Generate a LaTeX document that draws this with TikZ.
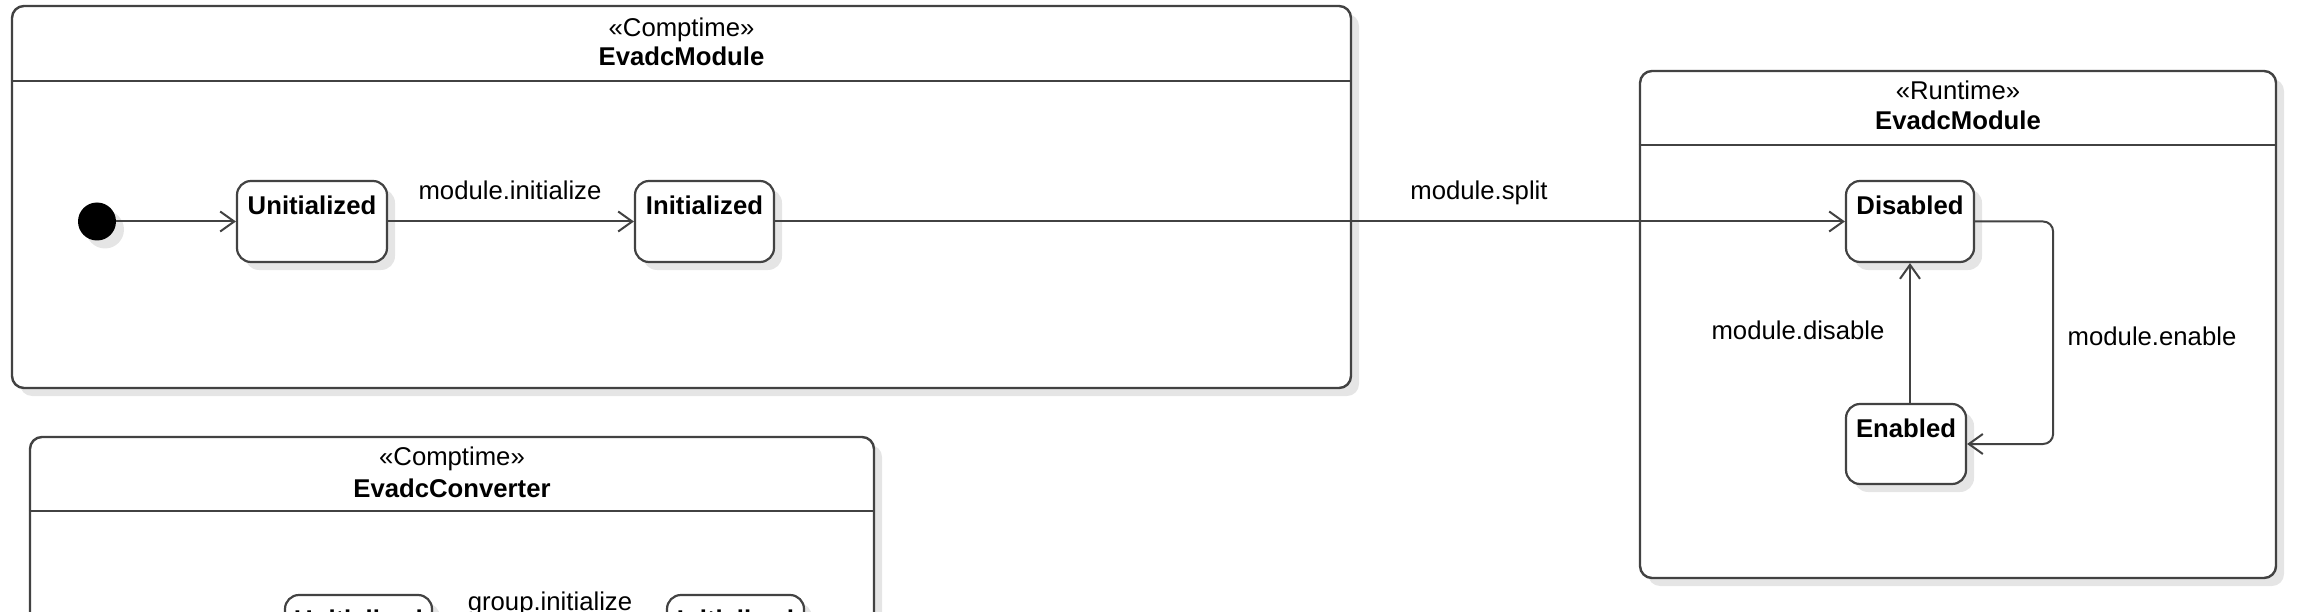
\documentclass[tikz,border=0pt]{standalone}
\usepackage{fontspec}
\setmainfont{Liberation Sans}
\usetikzlibrary{arrows.meta,shadows}
\definecolor{linec}{HTML}{424242}
\tikzset{
  shad/.style={drop shadow={shadow xshift=8pt, shadow yshift=-8pt, opacity=0.10, fill=black}},
  frame/.style={draw=linec, line width=2.4pt, rounded corners=12pt, fill=white, inner sep=0pt, shad},
  sep/.style={draw=linec, line width=2.4pt},
  stbox/.style={draw=linec, line width=2.2pt, rounded corners=14pt, fill=white, inner sep=0pt, shad},
  trans/.style={draw=linec, line width=2pt, -{Straight Barb[length=14pt,width=20pt,line width=2pt]}},
  lbl/.style={font=\fontsize{25.7pt}{30pt}\selectfont, inner sep=0pt, anchor=base},
  blbl/.style={font=\fontsize{25.7pt}{30pt}\selectfont\bfseries, inner sep=0pt, anchor=base},
  initdot/.style={circle, fill=black, minimum size=38pt, inner sep=0pt, shad},
}
\begin{document}
\begin{tikzpicture}[x=1pt, y=-1pt]
\clip (0,0) rectangle (2306,612);
\fill[white] (0,0) rectangle (2306,612);

% ---------- Comptime EvadcModule ----------
\node[frame, minimum width=1339pt, minimum height=382pt] (m1) at (681.5,197) {};
\draw[sep] (m1.north west) ++(0,76) -- ++(1339,0);
\node[lbl] (m1s) at (681.5,37) {«Comptime»};
\node[blbl] (m1t) at (681.5,66) {EvadcModule};

\node[initdot] (i0) at (97,221.5) {};
\node[stbox, minimum width=150pt, minimum height=81pt,
      label={[blbl, name=ut, yshift=-35pt]north:Unitialized}] (u) at (312,221.5) {};
\node[stbox, minimum width=139pt, minimum height=81pt,
      label={[blbl, name=it, yshift=-35pt]north:Initialized}] (i) at (704.5,221.5) {};
\draw[trans] (i0) -- (u);
\draw[trans] (u) -- (i);
\node[lbl] (l1) at (510,200) {module.initialize};

% ---------- Runtime EvadcModule ----------
\node[frame, minimum width=636pt, minimum height=507pt] (rt) at (1958,324.5) {};
\draw[sep] (rt.north west) ++(0,75) -- ++(636,0);
\node[lbl] (rts) at (1958,100) {«Runtime»};
\node[blbl] (rtt) at (1958,130) {EvadcModule};

\node[stbox, minimum width=128pt, minimum height=81pt,
      label={[blbl, name=dt, yshift=-35pt]north:Disabled}] (d) at (1910,221.5) {};
\node[stbox, minimum width=120pt, minimum height=80pt,
      label={[blbl, name=et, yshift=-35pt]north:Enabled}] (e) at (1906,444) {};

\draw[trans] (i) -- (d);
\node[lbl] (l2) at (1479,200) {module.split};

\draw[trans] (e.north -| d.south) -- (d.south);
\node[lbl] (l3) at (1798,339) {module.disable};
\draw[trans, rounded corners=10pt] (d.east) -- ++(78,0) |- (e.east);
\node[lbl] (l4) at (2152,345.5) {module.enable};

% ---------- Comptime EvadcConverter ----------
\node[frame, minimum width=844pt, minimum height=400pt] (cv) at (452,637) {};
\draw[sep] (cv.north west) ++(0,75) -- ++(844,0);
\node[lbl] (cvs) at (452,465) {«Comptime»};
\node[blbl] (cvt) at (452,497) {EvadcConverter};

\node[initdot] (i1) at (115,636) {};
\node[stbox, minimum width=147pt, minimum height=81pt,
      label={[blbl, name=u2t, yshift=-35pt]north:Unitialized}] (u2) at (358.5,635.5) {};
\node[stbox, minimum width=137pt, minimum height=81pt,
      label={[blbl, name=i2t, yshift=-35pt]north:Initialized}] (i2) at (735.5,635.5) {};
\draw[trans] (i1) -- (u2);
\draw[trans] (u2) -- (i2);
\node[lbl] (l5) at (550,610) {group.initialize};
\end{tikzpicture}
\end{document}
